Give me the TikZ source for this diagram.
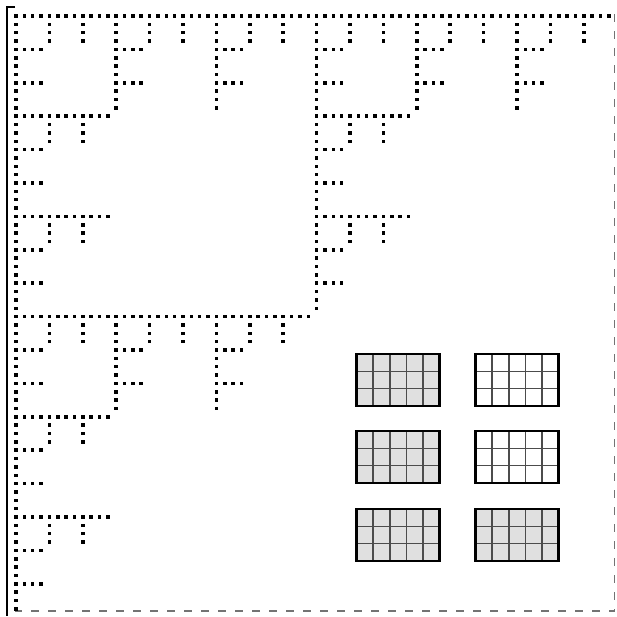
\documentclass[tikz,border=0pt]{standalone}
\usepackage{tikz}
\begin{document}
\begin{tikzpicture}[x=1pt, y=-1pt,
    dotsq/.style={fill=black},
    frame/.style={draw=black!55, line width=1.1pt, dash pattern=on 8pt off 9pt},
    gridbox/.style={draw=black, line width=2.6pt},
    gridline/.style={draw=black!70, line width=1.6pt},
    cell/.pic={
      \foreach \k in {0,...,3} \fill[dotsq] (\k,0) +(-0.21,-0.21) rectangle +(0.21,0.21);
      \foreach \k in {1,2,3} \fill[dotsq] (0,\k) +(-0.21,-0.21) rectangle +(0.21,0.21);
    },
  ]
  \useasboundingbox (0,0) rectangle (617,616);
  \draw[line width=2pt] (15,7) -- (7,7) -- (7,616);
  \draw[frame] (614.5,14) -- (614.5,611) -- (15,611);

  \begin{scope}[shift={(16,16)}, x=8.35pt, y=-8.35pt]
    \foreach \bx/\by in {0/0,36/0,0/36}
      \foreach \mx/\my in {0/0,12/0,24/0,0/12,0/24}
        \foreach \sx/\sy in {0/0,4/0,8/0,0/4,0/8}
          \pic at ({\bx+\mx+\sx},{\by+\my+\sy}) {cell};
  \end{scope}

  \foreach \gx/\gy/\tone in {356.5/354/black!12, 475.5/354/white,
                             356.5/431/black!12, 475.5/431/white,
                             356.5/509/black!12, 475.5/509/black!12} {
    \fill[\tone] (\gx,\gy) rectangle +(83,52);
    \foreach \i in {1,...,4}
      \draw[gridline] (\gx+\i*16.6,\gy) -- +(0,52);
    \foreach \j in {1,2}
      \draw[gridline] (\gx,\gy+\j*17.33) -- +(83,0);
    \draw[gridbox] (\gx,\gy) rectangle +(83,52);
  }
\end{tikzpicture}
\end{document}
